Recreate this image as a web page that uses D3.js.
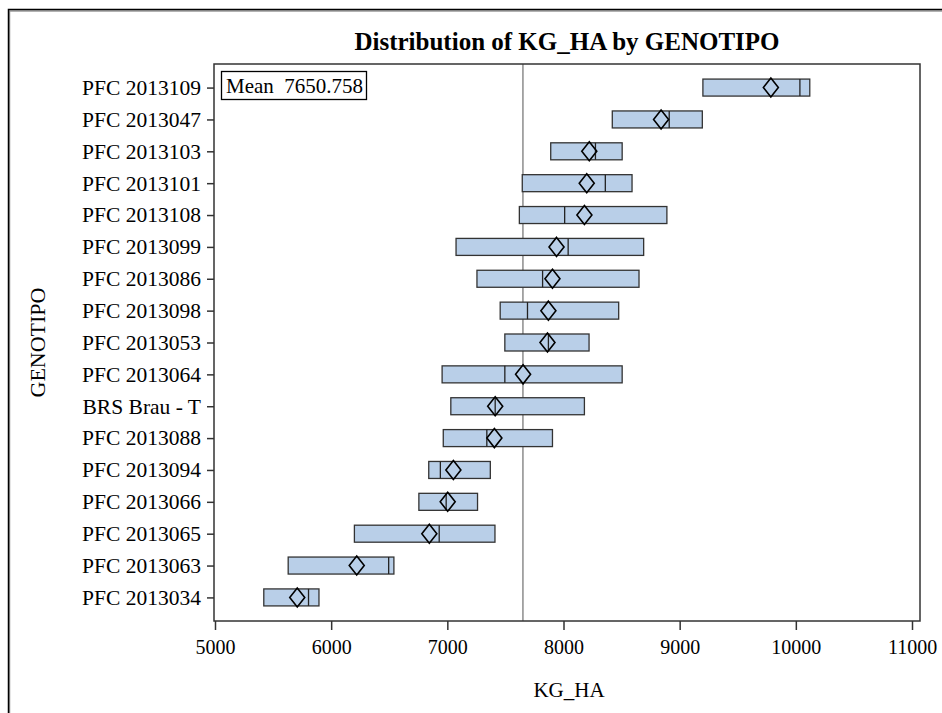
<!DOCTYPE html>
<html>
<head>
<meta charset="utf-8">
<script src="https://cdn.jsdelivr.net/npm/d3@7"></script>
<style>
  body { margin: 0; background: #fff; }
  svg text { font-family: "Liberation Serif", "Times New Roman", Times, "DejaVu Serif", serif; fill: #000; }
</style>
</head>
<body>
<svg id="root"></svg>
<script>
// values
var genotypes = ['PFC 2013109', 'PFC 2013047', 'PFC 2013103', 'PFC 2013101', 'PFC 2013108',
    'PFC 2013099', 'PFC 2013086', 'PFC 2013098', 'PFC 2013053', 'PFC 2013064',
    'BRS Brau - T', 'PFC 2013088', 'PFC 2013094', 'PFC 2013066', 'PFC 2013065',
    'PFC 2013063', 'PFC 2013034'];
var minVals = [9200, 8420, 7890, 7645, 7620, 7075, 7255, 7455, 7495, 6955, 7030, 6965, 6840, 6755, 6200, 5630, 5420];
var maxVals = [10120, 9195, 8505, 8590, 8890, 8690, 8650, 8475, 8220, 8505, 8180, 7905, 7370, 7260, 7410, 6540, 5895];
var medians = [10035, 8910, 8275, 8360, 8010, 8040, 7820, 7690, 7870, 7495, 7412, 7340, 6940, 6990, 6930, 6495, 5805];
var means = [9785, 8840, 8222, 8200, 8180, 7940, 7905, 7870, 7862, 7652, 7412, 7405, 7052, 7003, 6845, 6220, 5708];
var overallMean = 7650.758;
var xTicks = [5000, 6000, 7000, 8000, 9000, 10000, 11000];

var width = 942,
    height = 713,
    pLeft = 214, pRight = 920, pTop = 64, pBottom = 621,
    root = d3.select('#root')
        .attr('width', width)
        .attr('height', height);

var rows = genotypes.map(function(g, i) {
    return { name: g, min: minVals[i], max: maxVals[i], med: medians[i], mean: means[i] };
});

var x = d3.scaleLinear().domain([5000, 11000]).range([215, 912]);
var y = d3.scalePoint().domain(genotypes).range([pTop, pBottom]).padding(0.74);

// outer frame
root.append('path')
    .attr('d', 'M9.5,713 V11 H942')
    .attr('fill', 'none')
    .attr('stroke', '#999')
    .attr('stroke-width', 1.5);
root.append('path')
    .attr('d', 'M8.5,713 V9.5 H942')
    .attr('fill', 'none')
    .attr('stroke', '#000')
    .attr('stroke-width', 1.5);

// title
root.append('text')
    .attr('x', (pLeft + pRight) / 2)
    .attr('y', 50)
    .attr('text-anchor', 'middle')
    .attr('font-size', 25)
    .attr('font-weight', 'bold')
    .text('Distribution of KG_HA by GENOTIPO');

// mean reference line
root.append('line')
    .attr('x1', x(overallMean)).attr('x2', x(overallMean))
    .attr('y1', pTop).attr('y2', pBottom)
    .attr('stroke', '#8c8c8c')
    .attr('stroke-width', 1.5);

var boxH = 17;
var box = root.selectAll('.box')
    .data(rows)
    .enter()
        .append('g')
        .attr('class', 'box')
        .attr('transform', function(d) { return 'translate(0,' + y(d.name) + ')'; });

box.append('rect')
    .attr('x', function(d) { return x(d.min); })
    .attr('y', -boxH / 2)
    .attr('width', function(d) { return x(d.max) - x(d.min); })
    .attr('height', boxH)
    .attr('fill', '#b9cfe8')
    .attr('stroke', '#333')
    .attr('stroke-width', 1.3);

box.append('line')
    .attr('x1', function(d) { return x(d.med); })
    .attr('x2', function(d) { return x(d.med); })
    .attr('y1', -boxH / 2)
    .attr('y2', boxH / 2)
    .attr('stroke', '#222')
    .attr('stroke-width', 1.3);

box.append('path')
    .attr('d', function(d) {
        var cx = x(d.mean);
        return 'M' + cx + ',-9.5 L' + (cx + 7.5) + ',0 L' + cx + ',9.5 L' + (cx - 7.5) + ',0 Z';
    })
    .attr('fill', 'none')
    .attr('stroke', '#000')
    .attr('stroke-width', 1.6);

// plot frame
root.append('rect')
    .attr('x', pLeft).attr('y', pTop)
    .attr('width', pRight - pLeft).attr('height', pBottom - pTop)
    .attr('fill', 'none')
    .attr('stroke', '#333')
    .attr('stroke-width', 1.5);

// axes
var xAxis = root.append('g')
    .attr('transform', 'translate(0,' + pBottom + ')')
    .call(d3.axisBottom(x).tickValues(xTicks).tickFormat(d3.format('d')).tickSize(9).tickPadding(10));
var yAxis = root.append('g')
    .attr('transform', 'translate(' + pLeft + ',0)')
    .call(d3.axisLeft(y).tickSize(7).tickPadding(6));

[xAxis, yAxis].forEach(function(a) {
    a.attr('font-family', null);
    a.select('.domain').remove();
    a.selectAll('line').attr('stroke', '#333').attr('stroke-width', 1.5);
    a.selectAll('text')
        .attr('font-size', 20)
        .attr('fill', '#000');
});
yAxis.selectAll('text').attr('font-size', 21.5);

// inset legend
var leg = root.append('g');
leg.append('rect')
    .attr('x', 221.5).attr('y', 71.5)
    .attr('width', 145).attr('height', 28)
    .attr('fill', '#fff')
    .attr('stroke', '#000')
    .attr('stroke-width', 1.3);
leg.append('text')
    .attr('x', 226)
    .attr('y', 92.5)
    .attr('font-size', 21)
    .style('white-space', 'pre')
    .text('Mean  ' + overallMean);

// axis labels
root.append('text')
    .attr('x', (pLeft + pRight) / 2 + 2)
    .attr('y', 697)
    .attr('text-anchor', 'middle')
    .attr('font-size', 21)
    .text('KG_HA');
root.append('text')
    .attr('transform', 'translate(45,' + ((pTop + pBottom) / 2) + ') rotate(-90)')
    .attr('text-anchor', 'middle')
    .attr('font-size', 22)
    .text('GENOTIPO');
</script>
</body>
</html>
